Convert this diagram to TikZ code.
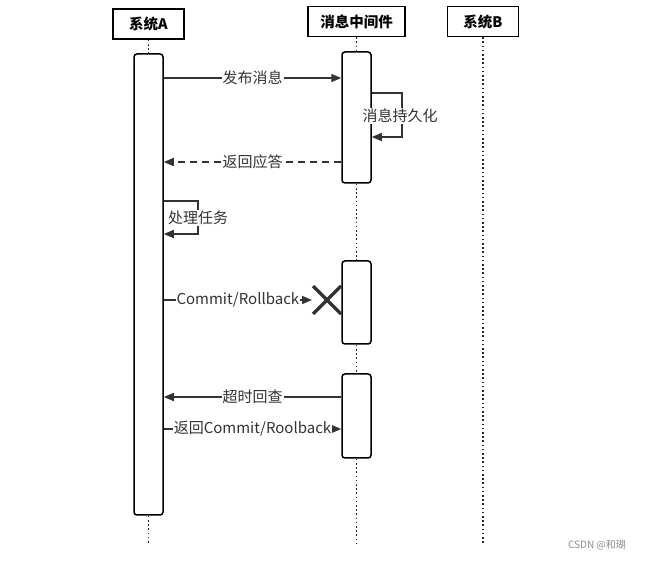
\documentclass[tikz,border=0pt]{standalone}
\usepackage{fontspec}
\setmainfont{Noto Sans CJK SC}
\usetikzlibrary{arrows.meta,calc}
\begin{document}
\begin{tikzpicture}[x=1pt,y=-1pt,
  head/.style={draw, line width=1.5pt, minimum width=71pt, minimum height=30pt, inner sep=0pt, font=\fontsize{14.5}{16}\selectfont\bfseries, fill=white},
  actbox/.style={draw, line width=1.5pt, rounded corners=3pt, minimum width=29pt, inner sep=0pt, fill=white},
  life/.style={line width=1.6pt, dash pattern=on 1.6pt off 2.6pt, color=black!85},
  msg/.style={line width=1.5pt, color=black!80, -{Triangle[length=10pt,width=8pt]}},
  lbl/.style={fill=white, inner sep=1pt, font=\fontsize{15}{17}\selectfont, text=black!80},
  crossln/.style={line width=3.2pt, color=black!80}
]
\useasboundingbox (0,0) rectangle (646,561);
% headers
\node[head] (hA) at (148.5,24) {系统A};
\node[head, minimum width=97pt] (hM) at (356.5,21.5) {消息中间件};
\node[head] (hB) at (483,21.5) {系统B};
% lifelines ends
\coordinate (endA) at (148.5,545);
\coordinate (endM) at (356.5,545);
\coordinate (endB) at (483,545);
% activations
\node[actbox, minimum height=461pt] (actA) at (148.5,284.5) {};
\node[actbox, minimum height=131pt] (act1) at (356.5,117.5) {};
\node[actbox, minimum height=83pt] (act2) at (356.5,302.5) {};
\node[actbox, minimum height=84pt] (act3) at (356.5,416) {};
% lifelines
\draw[life] (hA.south) -- (actA.north);
\draw[life] (actA.south) -- (endA);
\draw[life] (hM.south) -- (act1.north);
\draw[life] (act1.south) -- (act2.north);
\draw[life] (act2.south) -- (act3.north);
\draw[life] (act3.south) -- (endM);
\draw[life] (hB.south) -- (endB);
% y levels
\coordinate (y1) at (0,78);
\coordinate (y2a) at (0,93);
\coordinate (y2b) at (0,137);
\coordinate (y3) at (0,162);
\coordinate (y4a) at (0,201);
\coordinate (y4b) at (0,234);
\coordinate (y5) at (0,300);
\coordinate (y6) at (0,397);
\coordinate (y7) at (0,429);
\coordinate (selfM) at (402,0);
\coordinate (selfA) at (198,0);
\coordinate (xc) at (327,300);
\coordinate (tip5) at (312,300);
% messages
\draw[msg] (actA.east |- y1) -- node[lbl] {发布消息} (act1.west |- y1);
\draw[msg] (act1.east |- y2a) -- (selfM |- y2a) -- (selfM |- y2b) -- (act1.east |- y2b);
\node[lbl] (l2) at (400,116) {消息持久化};
\draw[msg, dash pattern=on 7pt off 5pt] (act1.west |- y3) -- node[lbl] {返回应答} (actA.east |- y3);
\draw[msg] (actA.east |- y4a) -- (selfA |- y4a) -- (selfA |- y4b) -- (actA.east |- y4b);
\node[lbl] (l4) at (198,218) {处理任务};
\draw[msg] (actA.east |- y5) -- node[lbl] {Commit/Rollback} (tip5);
\draw[crossln] ($(xc)+(-14,-14)$) -- ($(xc)+(14,14)$);
\draw[crossln] ($(xc)+(-14,14)$) -- ($(xc)+(14,-14)$);
\draw[msg] (act3.west |- y6) -- node[lbl] {超时回查} (actA.east |- y6);
\draw[msg] (actA.east |- y7) -- node[lbl, inner sep=0.5pt] {返回Commit/Roolback} (act3.west |- y7);
% watermark
\node[font=\fontsize{10}{12}\selectfont, text=black!45] (wm) at (597,545) {CSDN @和瑚};
\end{tikzpicture}
\end{document}
